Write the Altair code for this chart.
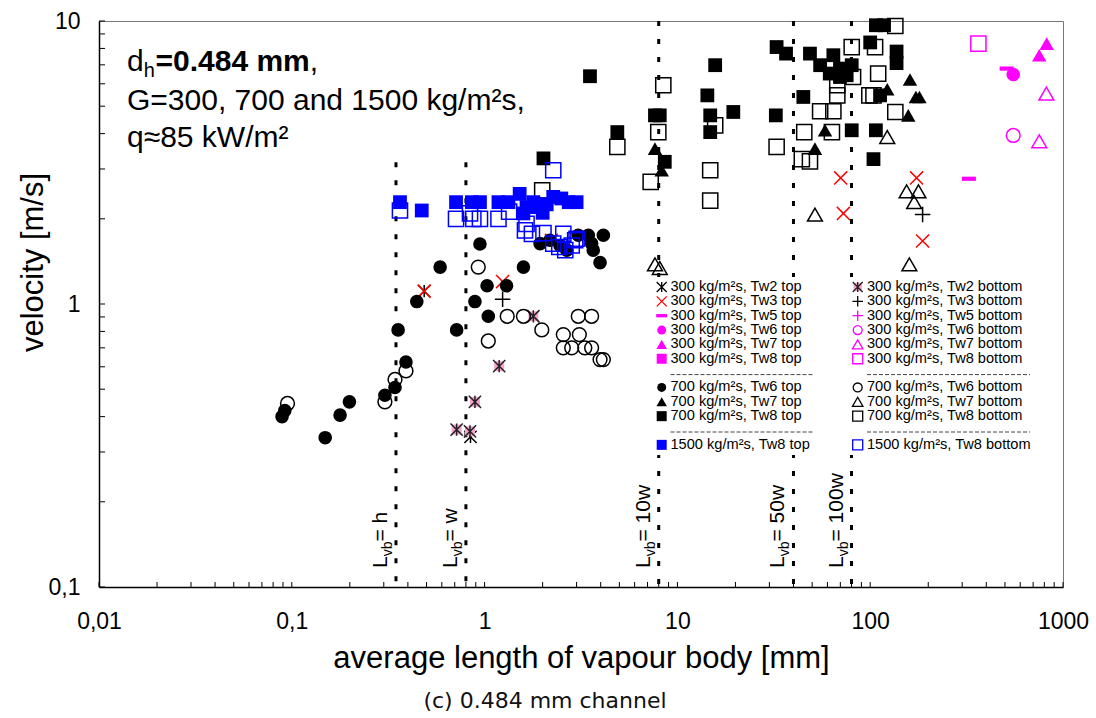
import altair as alt
import pandas as pd

FONT = "Liberation Sans"
MAGENTA = "#ff00ff"
BLUE = "#0000ff"
RED = "#ff0000"
PINK = "#f5a3cc"

# ---- axes -----------------------------------------------------------------
x_label_values = [0.01, 0.1, 1, 10, 100, 1000]
y_label_values = [0.1, 1, 10]

# ---- characteristic vapour-body lengths (mm), drawn as dotted verticals ----
ref_lengths = [0.347, 0.8, 8, 40, 80]
ref_names = ["h", "w", "10w", "50w", "100w"]
ref_top_velocity = [3.17, 3.17, 10, 10, 10]

# ---- measurements: average vapour-body length [mm] / velocity [m/s] --------
# G = 300 kg/m²s
g300_tw2_top_len = [0.486, 0.845]
g300_tw2_top_vel = [1.11, 0.339]
g300_tw3_top_len = [0.486, 1.24, 2.22, 70.3, 72.6, 174, 187]
g300_tw3_top_vel = [1.11, 1.20, 1.68, 2.79, 2.09, 2.79, 1.67]
g300_tw5_top_len = [325, 510]
g300_tw5_top_vel = [2.77, 6.79]
g300_tw6_top_len = [552]
g300_tw6_top_vel = [6.47]
g300_tw7_top_len = [823, 753]
g300_tw7_top_vel = [8.32, 7.57]
g300_tw8_top_len = []
g300_tw8_top_vel = []

g300_tw2_bot_len = [0.716, 0.84, 0.891, 1.19, 1.79]
g300_tw2_bot_vel = [0.36, 0.355, 0.451, 0.603, 0.905]
g300_tw3_bot_len = [1.24, 187]
g300_tw3_bot_vel = [1.04, 2.07]
g300_tw5_bot_len = []
g300_tw5_bot_vel = []
g300_tw6_bot_len = [552]
g300_tw6_bot_vel = [3.94]
g300_tw7_bot_len = [820, 753]
g300_tw7_bot_vel = [5.54, 3.76]
g300_tw8_bot_len = [364]
g300_tw8_bot_vel = [8.32]

# G = 700 kg/m²s
g700_tw6_top_len = [0.089, 0.092, 0.149, 0.178, 0.199, 0.304, 0.343, 0.356, 0.391,
                    0.445, 0.588, 0.716, 0.891, 0.946, 1.03, 1.045, 1.30, 1.59,
                    1.94, 2.18, 2.46, 2.67, 3.06, 3.45, 3.59, 3.66, 4.13, 3.97]
g700_tw6_top_vel = [0.40, 0.42, 0.337, 0.405, 0.451, 0.476, 0.507, 0.81, 0.624,
                    1.02, 1.35, 0.81, 1.02, 1.63, 1.16, 0.905, 1.16, 1.35,
                    1.635, 1.68, 1.61, 1.55, 1.75, 1.75, 1.635, 1.55, 1.75, 1.40]
g700_tw7_top_len = [7.65, 8.29, 51.7, 58.3, 122.6, 160.8, 172.6, 180, 157.6]
g700_tw7_top_vel = [3.54, 2.97, 3.54, 4.11, 5.74, 6.21, 5.39, 5.39, 4.64]
g700_tw8_top_len = [2.02, 3.52, 4.88, 7.65, 8.1, 8.6, 14.3, 14.8, 14.8, 15.7, 19.5,
                    32.4, 32.7, 36.6, 45, 48.7, 55, 61.7, 64.4, 69.7, 69.7, 75.5,
                    80.2, 80.2, 100, 104, 107, 107, 118, 112.5, 137, 137]
g700_tw8_top_vel = [3.27, 6.38, 4.05, 4.64, 4.64, 3.18, 5.46, 4.64, 4.05, 6.98, 4.77,
                    4.64, 8.09, 7.67, 5.39, 7.67, 6.98, 6.52, 7.57, 6.79, 6.34, 6.43,
                    6.98, 4.11, 8.4, 3.25, 4.11, 9.66, 9.66, 5.46, 7.8, 7.1]

g700_tw6_bot_len = [0.095, 0.304, 0.343, 0.391, 0.927, 1.045, 1.31, 1.59, 1.98, 2.56,
                    2.56, 2.83, 3.06, 3.10, 3.31, 3.59, 3.59, 3.97, 4.13]
g700_tw6_bot_vel = [0.445, 0.451, 0.541, 0.58, 1.35, 0.74, 0.905, 0.905, 0.81, 0.78,
                    0.70, 0.70, 0.905, 0.78, 0.70, 0.905, 0.70, 0.636, 0.636]
g700_tw7_bot_len = [7.65, 8.1, 51.7, 122.6, 154.5, 178, 169, 159.6]
g700_tw7_bot_vel = [1.38, 1.34, 2.07, 3.89, 2.50, 2.50, 2.29, 1.38]
g700_tw8_bot_len = [1.99, 4.88, 7.27, 7.96, 8.45, 14.8, 14.8, 15.7, 32.7, 44.2, 45.5,
                    48.7, 55, 63.3, 64.4, 67.5, 67.5, 80.2, 81.5, 99, 104, 106, 110,
                    135, 135]
g700_tw8_bot_vel = [2.52, 3.59, 2.70, 4.05, 5.93, 2.97, 2.32, 4.28, 3.59, 3.25, 4.05,
                    3.19, 4.8, 4.05, 4.8, 5.46, 5.93, 8.09, 6.34, 5.46, 5.46, 8.09, 6.52,
                    9.6, 4.77]

# G = 1500 kg/m²s
g1500_tw8_top_len = [0.364, 0.472, 0.711, 0.859, 0.946, 1.18, 1.33, 1.52, 1.65, 1.59,
                     1.79, 1.9, 2.0, 2.1, 2.27, 2.5, 2.73, 3.0]
g1500_tw8_top_vel = [2.29, 2.14, 2.29, 2.29, 2.29, 2.29, 2.29, 2.45, 2.20, 2.09,
                     2.29, 2.2, 2.1, 2.25, 2.39, 2.36, 2.29, 2.29]
g1500_tw8_bot_len = [0.364, 0.711, 0.84, 0.874, 0.946, 1.18, 1.34, 1.62, 1.65, 1.76,
                     2.02, 2.27, 2.27, 2.44, 2.56, 2.62, 2.83, 2.95, 3.0]
g1500_tw8_bot_vel = [2.14, 2.0, 2.09, 2.0, 2.0, 2.0, 2.12, 1.82, 1.92, 1.77,
                     1.78, 2.97, 1.635, 1.59, 1.77, 1.55, 1.61, 1.68, 1.70]

# legend text, legend column, legend row, lengths, velocities, marker, colour
series = [
    ("300 kg/m²s, Tw2 top", 0, 0, g300_tw2_top_len, g300_tw2_top_vel, "aster", "black"),
    ("300 kg/m²s, Tw3 top", 0, 1, g300_tw3_top_len, g300_tw3_top_vel, "x", RED),
    ("300 kg/m²s, Tw5 top", 0, 2, g300_tw5_top_len, g300_tw5_top_vel, "dash", MAGENTA),
    ("300 kg/m²s, Tw6 top", 0, 3, g300_tw6_top_len, g300_tw6_top_vel, "circle_f", MAGENTA),
    ("300 kg/m²s, Tw7 top", 0, 4, g300_tw7_top_len, g300_tw7_top_vel, "tri_f", MAGENTA),
    ("300 kg/m²s, Tw8 top", 0, 5, g300_tw8_top_len, g300_tw8_top_vel, "sq_f", MAGENTA),
    ("300 kg/m²s, Tw2 bottom", 1, 0, g300_tw2_bot_len, g300_tw2_bot_vel, "aster_bg", "#222222"),
    ("300 kg/m²s, Tw3 bottom", 1, 1, g300_tw3_bot_len, g300_tw3_bot_vel, "plus", "black"),
    ("300 kg/m²s, Tw5 bottom", 1, 2, g300_tw5_bot_len, g300_tw5_bot_vel, "plus", MAGENTA),
    ("300 kg/m²s, Tw6 bottom", 1, 3, g300_tw6_bot_len, g300_tw6_bot_vel, "circle_o", MAGENTA),
    ("300 kg/m²s, Tw7 bottom", 1, 4, g300_tw7_bot_len, g300_tw7_bot_vel, "tri_o", MAGENTA),
    ("300 kg/m²s, Tw8 bottom", 1, 5, g300_tw8_bot_len, g300_tw8_bot_vel, "sq_o", MAGENTA),
    ("700 kg/m²s, Tw6 top", 0, 7, g700_tw6_top_len, g700_tw6_top_vel, "circle_f", "black"),
    ("700 kg/m²s, Tw7 top", 0, 8, g700_tw7_top_len, g700_tw7_top_vel, "tri_f", "black"),
    ("700 kg/m²s, Tw8 top", 0, 9, g700_tw8_top_len, g700_tw8_top_vel, "sq_f", "black"),
    ("700 kg/m²s, Tw6 bottom", 1, 7, g700_tw6_bot_len, g700_tw6_bot_vel, "circle_o", "black"),
    ("700 kg/m²s, Tw7 bottom", 1, 8, g700_tw7_bot_len, g700_tw7_bot_vel, "tri_o", "black"),
    ("700 kg/m²s, Tw8 bottom", 1, 9, g700_tw8_bot_len, g700_tw8_bot_vel, "sq_o", "black"),
    ("1500 kg/m²s, Tw8 top", 0, 11, g1500_tw8_top_len, g1500_tw8_top_vel, "sq_f", BLUE),
    ("1500 kg/m²s, Tw8 bottom", 1, 11, g1500_tw8_bot_len, g1500_tw8_bot_vel, "sq_o", BLUE),
]

# ---- marker styles ----------------------------------------------------------
PATHS = {
    "aster": "M-1,-1L1,1M-1,1L1,-1M0,-1L0,1",
    "x": "M-1,-1L1,1M-1,1L1,-1",
    "plus": "M-1,0L1,0M0,-1L0,1",
    "dash": "M-1,-0.3L1,-0.3L1,0.3L-1,0.3Z",
}
# kind: (shape, filled, size in the plot, size in the legend)
KIND = {
    "circle_f": ("circle", True, 185, 80),
    "circle_o": ("circle", False, 190, 80),
    "tri_f": ("triangle-up", True, 210, 110),
    "tri_o": ("triangle-up", False, 220, 110),
    "sq_f": ("square", True, 190, 100),
    "sq_o": ("square", False, 230, 100),
    "x": (PATHS["x"], False, 170, 100),
    "plus": (PATHS["plus"], False, 240, 110),
    "aster": (PATHS["aster"], False, 150, 100),
    "dash": (PATHS["dash"], True, 196, 120),
}


def marker_layers(kind, colour, legend=False):
    """Mark definitions (one or two) for a marker kind."""
    if kind == "aster_bg":
        bg = dict(shape="square", filled=True, color=PINK, size=70 if legend else 100, opacity=1)
        return [bg] + marker_layers("aster", colour, legend)
    shape, filled, size, leg_size = KIND[kind]
    props = dict(shape=shape, filled=filled, color=colour,
                 size=leg_size if legend else size, opacity=1)
    if not filled:
        props["strokeWidth"] = 1.3 if legend else 1.5
    return [props]


# ---- chart ------------------------------------------------------------------
W, H = 964, 566
xs = alt.Scale(type="log", domain=[0.01, 1000], nice=False)
ys = alt.Scale(type="log", domain=[0.1, 10], nice=False)
ONE = pd.DataFrame({"k": [0]})
COMMA = "replace(toString(datum.value), '.', ',')"

x_axis = alt.Axis(
    values=x_label_values, labelExpr=COMMA, title="average length of vapour body [mm]",
    ticks=False, tickSize=0, grid=False, labelFlush=False, labelOverlap=False,
    labelPadding=41, labelBaseline="alphabetic", titleY=80, titleBaseline="alphabetic",
    domainColor="black", domainWidth=1.5)
y_axis = alt.Axis(
    values=y_label_values, labelExpr=COMMA, title="velocity [m/s]",
    ticks=False, tickSize=0, grid=False, labelFlush=False, labelOverlap=False,
    labelPadding=19, labelBaseline="middle", titleAngle=270, titleX=-57, titleY=241,
    titleAlign="center", titleBaseline="alphabetic", domainColor="black", domainWidth=1.5)


# every layer carries the same axis definition so the shared axes merge cleanly
def X(field):
    return alt.X(f"{field}:Q", scale=xs, axis=x_axis)


def Y(field):
    return alt.Y(f"{field}:Q", scale=ys, axis=y_axis)


layers = []

# dotted reference lines
ref_df = pd.DataFrame({"length": ref_lengths, "top": ref_top_velocity,
                       "rest": ["= " + n for n in ref_names]})
ref_df["bottom"] = 0.1
layers.append(
    alt.Chart(ref_df).mark_rule(color="black", strokeWidth=3, strokeDash=[5, 13]).encode(
        x=X("length"), y=Y("top"), y2="bottom:Q"))

# inward minor/major ticks
x_ticks = [m * 10.0 ** k for k in range(-2, 3) for m in range(1, 10)] + [1000.0]
y_ticks = [m * 10.0 ** k for k in range(-1, 1) for m in range(1, 10)] + [10.0]
layers.append(alt.Chart(pd.DataFrame({"t": x_ticks})).mark_rule(color="black", strokeWidth=1)
              .encode(x=X("t"), y=alt.value(H), y2=alt.value(H - 5)))
layers.append(alt.Chart(pd.DataFrame({"t": y_ticks})).mark_rule(color="black", strokeWidth=1)
              .encode(y=Y("t"), x=alt.value(0), x2=alt.value(6)))

# rotated labels "L_vb = ..." next to each dotted line
LAB_Y = 547
lab = alt.Chart(ref_df)
layers.append(lab.mark_text(text="L", angle=270, align="left", baseline="alphabetic",
                            font=FONT, fontSize=21, dy=-9)
              .encode(x=X("length"), y=alt.value(LAB_Y)))
layers.append(lab.mark_text(text="vb", angle=270, align="left", baseline="alphabetic",
                            font=FONT, fontSize=14, dx=11.7, dy=-4)
              .encode(x=X("length"), y=alt.value(LAB_Y)))
layers.append(lab.mark_text(angle=270, align="left", baseline="alphabetic",
                            font=FONT, fontSize=21, dx=26.5, dy=-9)
              .encode(x=X("length"), y=alt.value(LAB_Y), text="rest:N"))

# legend panel
LEG_TOP, LEG_STEP = 266.0, 14.35
LEG_SYM_X = [562.7, 758.7]
LEG_TXT_X = [571.5, 768.0]
LEG_SEP_END = [714.0, 931.0]
layers.append(alt.Chart(ONE).mark_rect(color="white").encode(
    x=alt.value(553), x2=alt.value(953), y=alt.value(256), y2=alt.value(434)))
for text, col, row, _, _, kind, colour in series:
    ly = LEG_TOP + LEG_STEP * row
    for props in marker_layers(kind, colour, legend=True):
        layers.append(alt.Chart(ONE).mark_point(**props).encode(
            x=alt.value(LEG_SYM_X[col]), y=alt.value(ly)))
    layers.append(alt.Chart(ONE).mark_text(
        text=text, align="left", baseline="middle", font=FONT, fontSize=14.6, color="black"
    ).encode(x=alt.value(LEG_TXT_X[col]), y=alt.value(ly)))
for col in (0, 1):
    for row in (6, 10):
        ly = LEG_TOP + LEG_STEP * row + 1.5
        layers.append(alt.Chart(ONE).mark_rule(color="#444444", strokeWidth=1, strokeDash=[4, 2])
                      .encode(x=alt.value(LEG_TXT_X[col]), x2=alt.value(LEG_SEP_END[col]),
                              y=alt.value(ly)))

# measured points
for text, col, row, lens, vels, kind, colour in series:
    if not lens:
        continue
    df = pd.DataFrame({"length": lens, "velocity": vels})
    for props in marker_layers(kind, colour):
        layers.append(alt.Chart(df).mark_point(**props).encode(x=X("length"), y=Y("velocity")))


# annotation block, top left
def note(text, x, y, size=30, weight="normal"):
    return alt.Chart(ONE).mark_text(text=text, align="left", baseline="alphabetic", font=FONT,
                                    fontSize=size, fontWeight=weight, color="black"
                                    ).encode(x=alt.value(x), y=alt.value(y))


layers += [
    note("d", 28, 50.3),
    note("h", 44.7, 56.3, size=20),
    note("=0.484 mm", 56.5, 50.3, weight="bold"),
    note(",", 210.8, 50.3),
    note("G=300, 700 and 1500 kg/m²s,", 28, 89.3),
    note("q≈85 kW/m²", 28, 126.3),
]

# panel caption below the axis title
layers.append(alt.Chart(ONE).mark_text(
    text="(c) 0.484 mm channel", align="center", baseline="alphabetic",
    font="DejaVu Sans", fontSize=22, color="#111111"
).encode(x=alt.value(446), y=alt.value(687)))

chart = alt.layer(*layers).properties(
    width=W, height=H,
    padding={"left": 99, "top": 21, "right": 33, "bottom": 131},
    autosize=alt.AutoSizeParams(type="none"),
).configure_view(
    stroke="#777777", strokeWidth=1
).configure_axis(
    labelFont=FONT, labelFontSize=23, labelColor="black",
    titleFont=FONT, titleFontSize=31, titleFontWeight="normal", titleColor="black",
)

chart.save("out.html", embed_options={"renderer": "svg", "actions": False})
